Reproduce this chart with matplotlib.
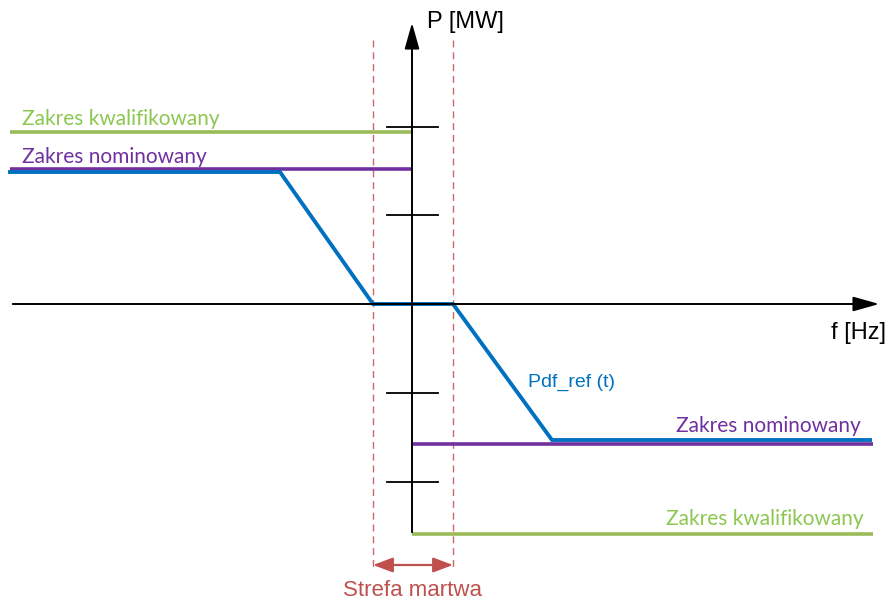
import matplotlib
matplotlib.use('Agg')
import matplotlib.pyplot as plt

# diagram coordinates: f offset from origin, P offset from origin (arbitrary units)
f_ref = [-402, -132, -39, 41, 140, 458]
p_ref = [132, 132, 0, 0, -136, -136]

nom_up, kwal_up = 135, 172
nom_dn, kwal_dn = -140, -230
f_left, f_right = -402, 461
dead_lo, dead_hi = -39, 41
p_ticks = [177, 89, -89, -178]

GREEN = '#9bbb59'
GREEN_TXT = '#8cc751'
PURPLE = '#7030a0'
BLUE = '#0070c0'
RED = '#c0504d'

fig = plt.figure(figsize=(8.89, 6), dpi=100)
ax = fig.add_axes([0, 0, 1, 1])
ax.set_xlim(-412, 477)
ax.set_ylim(-296, 304)
ax.axis('off')

# axes of the diagram
ax.annotate('', xy=(470, 0), xytext=(f_left, 0),
            arrowprops=dict(arrowstyle='-|>,head_length=1.6,head_width=0.45', color='k', lw=1.4))
ax.annotate('', xy=(0, 284), xytext=(0, -231),
            arrowprops=dict(arrowstyle='-|>,head_length=1.6,head_width=0.45', color='k', lw=1.4))
for p in p_ticks:
    ax.plot([-25, 26], [p, p], color='k', lw=1.3)

# dead band
for f in (dead_lo, dead_hi):
    ax.plot([f, f], [264, -266], color=RED, lw=1.0, ls=(0, (5, 3.5)), alpha=0.85)
ax.annotate('', xy=(dead_lo, -261), xytext=(dead_hi, -261),
            arrowprops=dict(arrowstyle='<|-|>,head_length=1.2,head_width=0.45', color=RED, lw=1.6,
                            shrinkA=0, shrinkB=0))
ax.text(0, -286, 'Strefa martwa', color=RED, fontsize=16, ha='center', va='center',
        family='Liberation Sans')

# ranges
ax.plot([f_left, 0], [kwal_up, kwal_up], color=GREEN, lw=2.6, solid_capstyle='butt')
ax.plot([0, f_right], [kwal_dn, kwal_dn], color=GREEN, lw=2.6, solid_capstyle='butt')
ax.plot([f_left, 0], [nom_up, nom_up], color=PURPLE, lw=2.6, solid_capstyle='butt')
ax.plot([0, f_right], [nom_dn, nom_dn], color=PURPLE, lw=2.6, solid_capstyle='butt')

ax.plot(f_ref, p_ref, color=BLUE, lw=2.8, solid_joinstyle='miter')

ax.text(-390, 185, 'Zakres kwalifikowany', color=GREEN_TXT, fontsize=15, family='Lato',
        ha='left', va='center')
ax.text(-390, 147, 'Zakres nominowany', color=PURPLE, fontsize=15, family='Lato',
        ha='left', va='center')
ax.text(449, -122, 'Zakres nominowany', color=PURPLE, fontsize=15, family='Lato',
        ha='right', va='center')
ax.text(452, -215, 'Zakres kwalifikowany', color=GREEN_TXT, fontsize=15, family='Lato',
        ha='right', va='center')

ax.text(116, -78, 'Pdf_ref (t)', color=BLUE, fontsize=14, family='Liberation Sans',
        ha='left', va='center')
ax.text(15, 282, 'P [MW]', color='k', fontsize=17, family='Liberation Sans',
        ha='left', va='center')
ax.text(474, -29, 'f [Hz]', color='k', fontsize=17, family='Liberation Sans',
        ha='right', va='center')

fig.savefig('out.png', dpi=100, facecolor='white')
